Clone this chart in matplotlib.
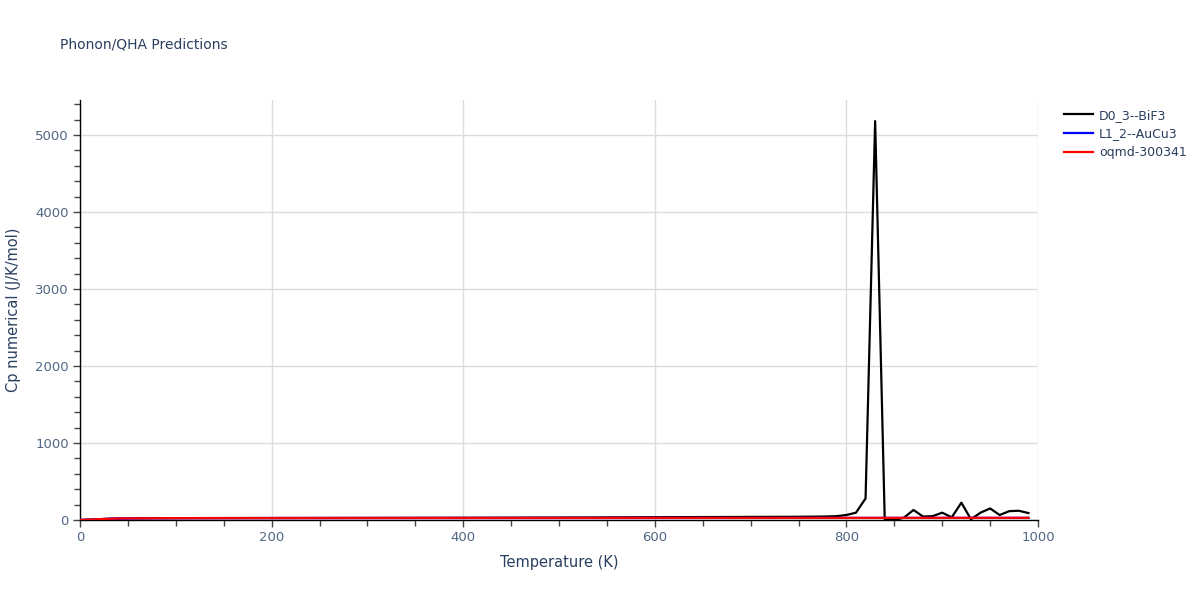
import numpy as np
import matplotlib.pyplot as plt
from matplotlib.ticker import MultipleLocator

# Temperature grid (K)
temps = list(range(0, 1000, 10))

# D0_3--BiF3 (black)
cp_bif3 = [0, 4, 10, 15, 18, 20, 21.5, 22.5, 23.2, 23.8,
           24.2, 24.5, 24.8, 25, 25.2, 25.4, 25.5, 25.7, 25.8, 26,
           26.1, 26.2, 26.4, 26.5, 26.6, 26.8, 26.9, 27, 27.2, 27.3,
           27.5, 27.6, 27.8, 28, 28.1, 28.3, 28.5, 28.7, 28.9, 29.1,
           29.3, 29.5, 29.8, 30, 30.3, 30.5, 30.8, 31.1, 31.4, 31.7,
           32, 32.3, 32.7, 33, 33.4, 33.8, 34.2, 34.6, 35, 35.5,
           36, 36.4, 36.8, 37.2, 37.6, 38, 38.4, 38.8, 39.2, 39.6,
           40, 40.3, 40.6, 41, 41.5, 42, 43, 44, 46, 50,
           65, 95, 280, 5180, 10, 0, 30, 130, 45, 50,
           95, 35, 225, 10, 95, 150, 65, 115, 120, 90]

# L1_2--AuCu3 (blue)
cp_aucu3 = [0, 5, 11, 16, 19, 21, 22, 22.8, 23.3, 23.7,
            24, 24.2, 24.4, 24.5, 24.6, 24.7, 24.8, 24.9, 25, 25,
            25.1, 25.1, 25.2, 25.2, 25.3, 25.3, 25.4, 25.4, 25.5, 25.5,
            25.5, 25.6, 25.6, 25.7, 25.7, 25.7, 25.8, 25.8, 25.9, 25.9,
            25.9, 26, 26, 26, 26.1, 26.1, 26.1, 26.2, 26.2, 26.2,
            26.3, 26.3, 26.3, 26.4, 26.4, 26.4, 26.5, 26.5, 26.5, 26.6,
            26.6, 26.6, 26.7, 26.7, 26.7, 26.8, 26.8, 26.8, 26.9, 26.9,
            26.9, 27, 27, 27, 27.1, 27.1, 27.1, 27.2, 27.2, 27.2,
            27.3, 27.3, 27.3, 27.4, 27.4, 27.4, 27.5, 27.5, 27.5, 27.6,
            27.6, 27.6, 27.7, 27.7, 27.7, 27.8, 27.8, 27.8, 27.9, 27.9]

# oqmd-300341 (red)
cp_oqmd = [0, 5, 11, 16, 19.2, 21.2, 22.2, 23, 23.4, 23.8,
           24.1, 24.3, 24.5, 24.6, 24.7, 24.8, 24.9, 25, 25, 25.1,
           25.1, 25.2, 25.2, 25.3, 25.3, 25.4, 25.4, 25.5, 25.5, 25.5,
           25.6, 25.6, 25.7, 25.7, 25.7, 25.8, 25.8, 25.9, 25.9, 25.9,
           26, 26, 26, 26.1, 26.1, 26.1, 26.2, 26.2, 26.2, 26.3,
           26.3, 26.3, 26.4, 26.4, 26.4, 26.5, 26.5, 26.5, 26.6, 26.6,
           26.6, 26.7, 26.7, 26.7, 26.8, 26.8, 26.8, 26.9, 26.9, 26.9,
           27, 27, 27, 27.1, 27.1, 27.1, 27.2, 27.2, 27.2, 27.3,
           27.3, 27.3, 27.4, 27.4, 27.4, 27.5, 27.5, 27.5, 27.6, 27.6,
           27.6, 27.7, 27.7, 27.7, 27.8, 27.8, 27.8, 27.9, 27.9, 28]

text_col = '#2a3f5f'
label_col = '#506784'

fig = plt.figure(figsize=(12, 6), dpi=100)
ax = fig.add_axes([80/1200, 80/600, 958/1200, 420/600])

ax.plot(temps, cp_bif3, color='black', lw=1.6, label='D0_3--BiF3', zorder=3)
ax.plot(temps, cp_aucu3, color='blue', lw=1.6, label='L1_2--AuCu3', zorder=3)
ax.plot(temps, cp_oqmd, color='red', lw=1.6, label='oqmd-300341', zorder=4)

ax.set_xlim(0, 1000)
ax.set_ylim(0, 5454)
ax.xaxis.set_major_locator(MultipleLocator(200))
ax.xaxis.set_minor_locator(MultipleLocator(50))
ax.yaxis.set_major_locator(MultipleLocator(1000))
ax.yaxis.set_minor_locator(MultipleLocator(200))
ax.grid(True, which='major', color='#dcdcdc', lw=1)
ax.set_axisbelow(True)

for s in ['top', 'right']:
    ax.spines[s].set_visible(False)
for s in ['left', 'bottom']:
    ax.spines[s].set_color('black')
    ax.spines[s].set_linewidth(1)

ax.tick_params(which='both', direction='out', colors='#444444', labelcolor=label_col,
               labelsize=9.5, width=1)
ax.tick_params(which='major', length=5, pad=3)
ax.tick_params(which='minor', length=4)

ax.set_xlabel('Temperature (K)', fontsize=10.5, color=text_col, labelpad=8)
ax.set_ylabel('Cp numerical (J/K/mol)', fontsize=10.5, color=text_col, labelpad=10)

fig.text(60/1200, 1 - 45/600, 'Phonon/QHA Predictions', fontsize=10,
         color=text_col, va='center', ha='left')

leg = ax.legend(loc='upper left', bbox_to_anchor=(1.018, 1.0), frameon=False,
                fontsize=9, handlelength=2.3, handletextpad=0.5,
                labelspacing=0.45, borderaxespad=0.3)
for t in leg.get_texts():
    t.set_color(text_col)

fig.savefig('out.png', dpi=100)
